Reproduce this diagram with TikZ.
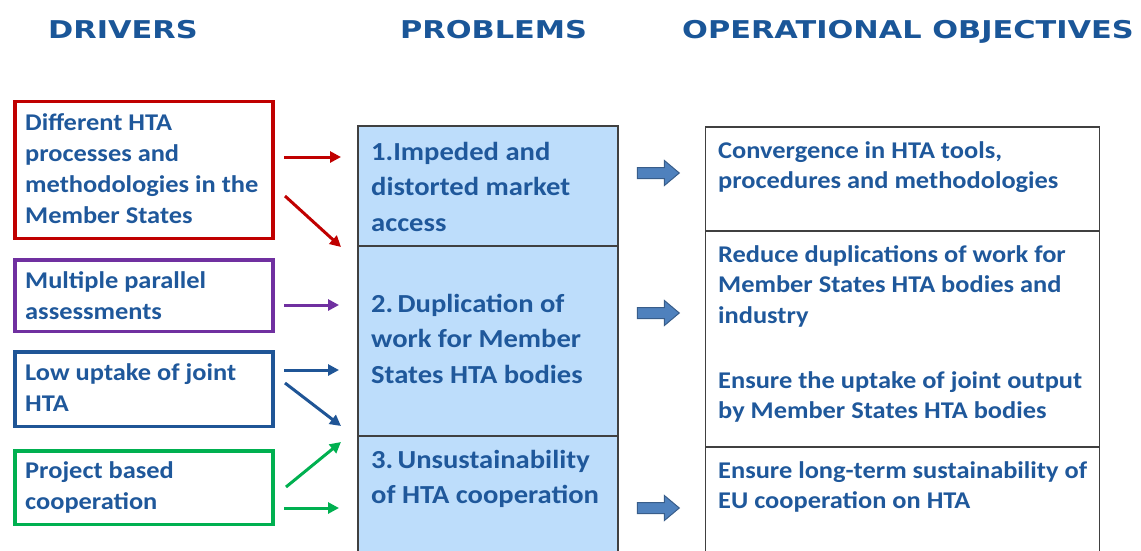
\documentclass[tikz,border=0pt]{standalone}
\usepackage{fontspec}
\usetikzlibrary{arrows.meta,shapes.arrows}
\newfontfamily\bodyf{Carlito}[FakeStretch=1.1]
\newfontfamily\headf{DejaVu Sans}[FakeStretch=1.24]
\definecolor{txt}{RGB}{31,88,155}
\definecolor{hd}{RGB}{26,86,152}
\definecolor{cred}{RGB}{192,0,0}
\definecolor{cpur}{RGB}{112,48,160}
\definecolor{cblu}{RGB}{31,85,150}
\definecolor{cgrn}{RGB}{0,176,80}
\definecolor{pfill}{RGB}{189,221,251}
\definecolor{bord}{RGB}{64,64,64}
\definecolor{barrow}{RGB}{79,129,189}
\definecolor{barrowd}{RGB}{56,93,138}
\newcommand{\fstrut}[1]{\rule{0pt}{#1}}
\begin{document}
\begin{tikzpicture}[x=1pt,y=-1pt,
  heading/.style={font=\headf\bfseries\fontsize{24.5}{28}\selectfont, text=hd, anchor=base west, inner sep=0pt},
  drvbox/.style={draw=#1, line width=3.5pt, minimum width=258pt, inner sep=0pt, fill=white},
  probbox/.style={draw=bord, line width=1.8pt, fill=pfill, minimum width=260pt, inner sep=0pt},
  objbox/.style={draw=bord, line width=1.8pt, fill=white, minimum width=394pt, inner sep=0pt},
  drvtxt/.style={font=\bodyf\bfseries\fontsize{24}{31}\selectfont, text=txt, anchor=north west, align=left, inner sep=0pt},
  probtxt/.style={font=\bodyf\bfseries\fontsize{26}{35.5}\selectfont, text=txt, anchor=north west, align=left, inner sep=0pt},
  objtxt/.style={font=\bodyf\bfseries\fontsize{24}{30.5}\selectfont, text=txt, anchor=north west, align=left, inner sep=0pt},
  conn/.style={draw=#1, line width=3pt, -{Triangle[length=11pt,width=11pt]}},
  blockarrow/.style={single arrow, fill=barrow, draw=barrowd, line width=1pt, minimum height=42pt, minimum width=24pt, inner sep=5pt, single arrow head extend=7pt, single arrow tip angle=80}
]
\useasboundingbox (0,0) rectangle (1141,550);
\clip (0,0) rectangle (1141,550);

% headings
\node[heading] (h1) at (48,38) {DRIVERS};
\node[heading] (h2) at (400,38) {PROBLEMS};
\node[heading] (h3) at (682,38) {OPERATIONAL OBJECTIVES};

% driver boxes
\node[drvbox=cred, minimum height=137pt] (d1) at (144,170) {};
\node[drvbox=cpur, minimum height=71.5pt] (d2) at (144,295.5) {};
\node[drvbox=cblu, minimum height=74.5pt] (d3) at (144,389) {};
\node[drvbox=cgrn, minimum height=73.5pt] (d4) at (144,487.5) {};

\node[drvtxt] (t1) at (25,110) {\fstrut{20pt}Different HTA\\processes and\\methodologies in the\\Member States};
\node[drvtxt] (t2) at (25,268) {\fstrut{20pt}Multiple parallel\\assessments};
\node[drvtxt] (t3) at (25,360) {\fstrut{20pt}Low uptake of joint\\HTA};
\node[drvtxt] (t4) at (25,458) {\fstrut{20pt}Project based\\cooperation};

% problem boxes
\node[probbox, minimum height=120pt] (p1) at (488,186) {};
\node[probbox, minimum height=190pt] (p2) at (488,341) {};
\node[probbox, minimum height=134pt] (p3) at (488,503) {};

\node[probtxt] (q1) at (371,138) {\fstrut{22pt}1.Impeded and\\distorted market\\access};
\node[probtxt] (q2) at (371,290) {\fstrut{22pt}2.\,Duplication of\\work for Member\\States HTA bodies};
\node[probtxt] (q3) at (371,446) {\fstrut{22pt}3.\,Unsustainability\\of HTA cooperation};

% objective boxes
\node[objbox, minimum height=104pt] (o1) at (902.5,179) {};
\node[objbox, minimum height=216pt] (o2) at (902.5,339) {};
\node[objbox, minimum height=123pt] (o3) at (902.5,508.5) {};

\node[objtxt] (r1) at (718,138) {\fstrut{20pt}Convergence in HTA tools,\\procedures and methodologies};
\node[objtxt] (r2) at (718,242) {\fstrut{20pt}Reduce duplications of work for\\Member States HTA bodies and\\industry};
\node[objtxt] (r3) at (718,368) {\fstrut{20pt}Ensure the uptake of joint output\\by Member States HTA bodies};
\node[objtxt] (r4) at (718,458) {\fstrut{20pt}Ensure long-term sustainability of\\EU cooperation on HTA};

% block arrows
\node[blockarrow] (a1) at (655,173) {};
\node[blockarrow] (a2) at (655,313) {};
\node[blockarrow] (a3) at (655,508) {};

% small connectors
\coordinate (s1) at (284,157); \coordinate (e1) at (341,157);
\coordinate (s2) at (285,196); \coordinate (e2) at (341,247);
\coordinate (s3) at (284,305); \coordinate (e3) at (339,305);
\coordinate (s4) at (284,370); \coordinate (e4) at (339,370);
\coordinate (s5) at (285,383); \coordinate (e5) at (341,426);
\coordinate (s6) at (286,487); \coordinate (e6) at (341,442);
\coordinate (s7) at (284,508); \coordinate (e7) at (339,508);
\draw[conn=cred] (s1) -- (e1);
\draw[conn=cred] (s2) -- (e2);
\draw[conn=cpur] (s3) -- (e3);
\draw[conn=cblu] (s4) -- (e4);
\draw[conn=cblu] (s5) -- (e5);
\draw[conn=cgrn] (s6) -- (e6);
\draw[conn=cgrn] (s7) -- (e7);
\end{tikzpicture}
\end{document}
